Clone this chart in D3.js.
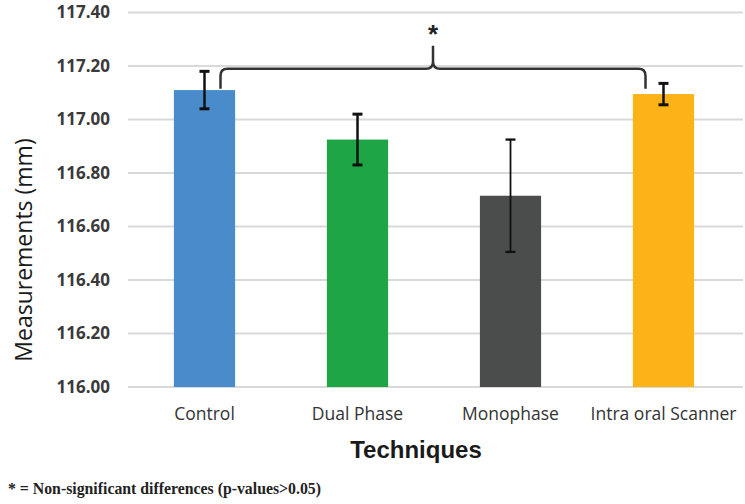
<!DOCTYPE html>
<html>
<head>
<meta charset="utf-8">
<script src="https://cdn.jsdelivr.net/npm/d3@7/dist/d3.min.js"></script>
<style>
  html, body { margin: 0; padding: 0; background: #fff; }
  svg { display: block; }
</style>
</head>
<body>
<svg id="chart" width="745" height="504"></svg>
<script>
// ---- data ----
const categories = ["Control", "Dual Phase", "Monophase", "Intra oral Scanner"];
const means = [117.11, 116.925, 116.715, 117.095];
const errors = [0.07, 0.095, 0.21, 0.04];
const barColors = ["#4a8bcc", "#1ea546", "#4b4c4c", "#fbb317"];
const yTicks = [116.0, 116.2, 116.4, 116.6, 116.8, 117.0, 117.2, 117.4];
const bracketEnds = ["Control", "Intra oral Scanner"];
const bracketLevel = [117.19, 117.115]; // horizontal level, tip level
const bracketLabel = "*";
const xTitle = "Techniques";
const yTitle = "Measurements (mm)";
const footnote = "* = Non-significant differences (p-values>0.05)";

// ---- layout ----
const svg = d3.select("#chart");
const plotLeft = 128, plotRight = 740, plotTop = 12.5, plotBottom = 387;

const x = d3.scaleBand().domain(categories).range([plotLeft, plotRight]).paddingInner(0.6).paddingOuter(0.3);
const y = d3.scaleLinear().domain([116.0, 117.4]).range([plotBottom, plotTop]);

// gridlines
svg.append("g").selectAll("line").data(yTicks).join("line")
  .attr("x1", plotLeft).attr("x2", 743)
  .attr("y1", d => y(d)).attr("y2", d => y(d))
  .attr("stroke", "#d9d9d9").attr("stroke-width", 2);

// y tick labels
svg.append("g").selectAll("text").data(yTicks).join("text")
  .attr("x", 110).attr("y", d => y(d))
  .attr("dy", "0.35em")
  .attr("text-anchor", "end")
  .attr("font-family", "Open Sans, sans-serif")
  .attr("font-weight", "bold")
  .attr("font-size", 17)
  .attr("fill", "#3a3a3a")
  .text(d => d.toFixed(2));

// bars
svg.append("g").selectAll("rect").data(categories).join("rect")
  .attr("x", d => x(d))
  .attr("width", x.bandwidth())
  .attr("y", (d, i) => y(means[i]))
  .attr("height", (d, i) => y(116.0) - y(means[i]))
  .attr("fill", (d, i) => barColors[i]);

// error bars
const eb = svg.append("g").attr("stroke", "#111").attr("stroke-width", 2.5);
categories.forEach((c, i) => {
  const cx = x(c) + x.bandwidth() / 2;
  const y1 = y(means[i] + errors[i]), y2 = y(means[i] - errors[i]);
  const w = i === 2 ? 1.8 : 2.5;
  eb.append("line").attr("x1", cx).attr("x2", cx).attr("y1", y1).attr("y2", y2).attr("stroke-width", w);
  eb.append("line").attr("x1", cx - 5).attr("x2", cx + 5).attr("y1", y1).attr("y2", y1).attr("stroke-width", w + 0.5);
  eb.append("line").attr("x1", cx - 5).attr("x2", cx + 5).attr("y1", y2).attr("y2", y2).attr("stroke-width", w + 0.5);
});

// bracket
{
  const bx1 = x(bracketEnds[0]) + x.bandwidth() / 2 + 16;
  const bx2 = x(bracketEnds[1]) + x.bandwidth() / 2 - 18;
  const by = y(bracketLevel[0]);
  const tip = y(bracketLevel[1]);
  const mid = (bx1 + bx2) / 2;
  const r = 7;
  const p = d3.path();
  p.moveTo(bx1, tip);
  p.lineTo(bx1, by + r);
  p.quadraticCurveTo(bx1, by, bx1 + r, by);
  p.lineTo(mid - r, by);
  p.quadraticCurveTo(mid, by, mid, by - r);
  p.lineTo(mid, by - 23);
  p.moveTo(mid, by - r);
  p.quadraticCurveTo(mid, by, mid + r, by);
  p.lineTo(bx2 - r, by);
  p.quadraticCurveTo(bx2, by, bx2, by + r);
  p.lineTo(bx2, tip);
  svg.append("path").attr("d", p.toString())
    .attr("fill", "none").attr("stroke", "#333").attr("stroke-width", 2.5);
  svg.append("text").attr("x", mid).attr("y", by - 27)
    .attr("text-anchor", "middle")
    .attr("font-family", "Liberation Sans, Arial, sans-serif")
    .attr("font-weight", "bold").attr("font-size", 26).attr("fill", "#222")
    .attr("dy", "0.6em")
    .text(bracketLabel)
    .attr("transform", "translate(0,-14)");
}

// x category labels
svg.append("g").selectAll("text").data(categories).join("text")
  .attr("x", d => x(d) + x.bandwidth() / 2)
  .attr("y", 420)
  .attr("text-anchor", "middle")
  .attr("font-family", "Open Sans, sans-serif")
  .attr("font-size", 17.5)
  .attr("fill", "#333")
  .text(d => d);

// x title
svg.append("text").attr("x", 416).attr("y", 458)
  .attr("text-anchor", "middle")
  .attr("font-family", "Liberation Sans, Arial, sans-serif")
  .attr("font-weight", "bold").attr("font-size", 24).attr("fill", "#1a1a1a")
  .text(xTitle);

// y title
svg.append("text")
  .attr("transform", "translate(32,250) rotate(-90)")
  .attr("text-anchor", "middle")
  .attr("font-family", "Open Sans, sans-serif")
  .attr("font-size", 23).attr("fill", "#1a1a1a")
  .text(yTitle);

// footnote
svg.append("text").attr("x", 8).attr("y", 494)
  .attr("font-family", "Liberation Serif, Times New Roman, serif")
  .attr("font-weight", "bold").attr("font-size", 15.8).attr("fill", "#222")
  .text(footnote);
</script>
</body>
</html>
